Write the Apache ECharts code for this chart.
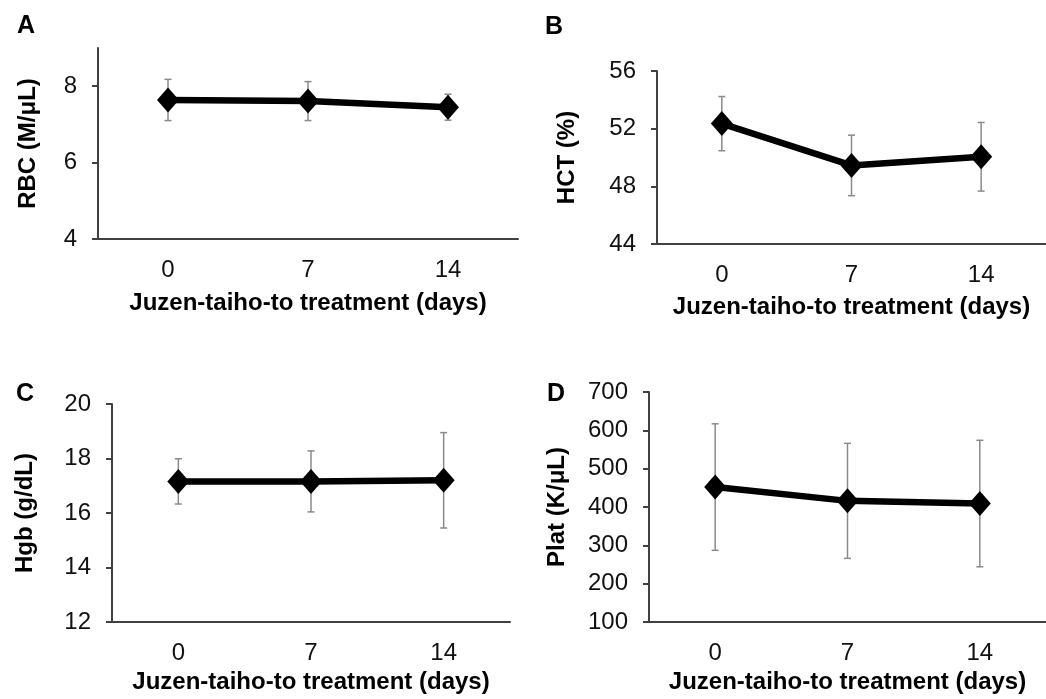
<!DOCTYPE html>
<html>
<head>
<meta charset="utf-8">
<script src="https://cdn.jsdelivr.net/npm/echarts@6/dist/echarts.min.js"></script>
<style>
  html, body { margin: 0; padding: 0; background: #fff; }
  #main { width: 1046px; height: 699px; }
</style>
</head>
<body>
<div id="main"></div>
<script>
var days = ['0', '7', '14'];
var xName = 'Juzen-taiho-to treatment (days)';

var rbcMean = [7.64, 7.61, 7.45];
var rbcErr = [0.54, 0.51, 0.34];
var hctMean = [52.35, 49.45, 50.05];
var hctErr = [1.88, 2.1, 2.38];
var hgbMean = [17.16, 17.16, 17.2];
var hgbErr = [0.83, 1.12, 1.75];
var platMean = [452, 416, 409];
var platErr = [165, 150, 165];

var FONT = "'Liberation Sans', Arial, sans-serif";

var chart = echarts.init(document.getElementById('main'));

// panel layout: grid box, y range, axis names, name gaps
var panels = [
    { letter: 'A', grid: { left: 98, top: 48, width: 420, height: 191 }, min: 4, max: 9, interval: 2,
      yName: 'RBC (M/\u03bcL)', yGap: 58, xGap: 52, mean: rbcMean, err: rbcErr, lx: 12, ly: 9 },
    { letter: 'B', grid: { left: 657, top: 71, width: 395, height: 173 }, min: 44, max: 56, interval: 4,
      yName: 'HCT (%)', yGap: 78, xGap: 51, mean: hctMean, err: hctErr, lx: 540, ly: 10 },
    { letter: 'C', grid: { left: 112, top: 404, width: 398, height: 218 }, min: 12, max: 20, interval: 2,
      yName: 'Hgb (g/dL)', yGap: 75, xGap: 48, mean: hgbMean, err: hgbErr, lx: 11, ly: 377 },
    { letter: 'D', grid: { left: 649, top: 392, width: 400, height: 230 }, min: 100, max: 700, interval: 100,
      yName: 'Plat (K/\u03bcL)', yGap: 80, xGap: 48, mean: platMean, err: platErr, lx: 542, ly: 377 }
];

var grids = [], xAxes = [], yAxes = [], series = [], titles = [];

panels.forEach(function (p, i) {
    grids.push(p.grid);
    titles.push({
        text: p.letter, left: p.lx, top: p.ly,
        textStyle: { fontFamily: FONT, fontSize: 25, fontWeight: 'bold', color: '#000' }
    });
    xAxes.push({
        gridIndex: i,
        type: 'category',
        data: days,
        boundaryGap: true,
        axisLine: { lineStyle: { color: '#404040', width: 2 } },
        axisTick: { show: false },
        axisLabel: { fontFamily: FONT, fontSize: 24, color: '#111', margin: 19 },
        name: xName,
        nameLocation: 'middle',
        nameGap: p.xGap,
        nameTextStyle: { fontFamily: FONT, fontSize: 24, fontWeight: 'bold', color: '#000' }
    });
    yAxes.push({
        gridIndex: i,
        type: 'value',
        min: p.min,
        max: p.max,
        interval: p.interval,
        splitLine: { show: false },
        axisLine: { show: true, lineStyle: { color: '#404040', width: 2 } },
        axisTick: { show: true, length: 6, lineStyle: { color: '#404040', width: 2 } },
        axisLabel: { fontFamily: FONT, fontSize: 24, color: '#111', margin: 21, showMaxLabel: p.max % p.interval === 0 },
        name: p.yName,
        nameLocation: 'middle',
        nameGap: p.yGap,
        nameTextStyle: { fontFamily: FONT, fontSize: 24, fontWeight: 'bold', color: '#000' }
    });

    var errData = p.mean.map(function (m, k) {
        return [k, m - p.err[k], m + p.err[k]];
    });
    series.push({
        type: 'custom',
        xAxisIndex: i,
        yAxisIndex: i,
        z: 1,
        data: errData,
        renderItem: function (params, api) {
            var lo = api.coord([api.value(0), api.value(1)]);
            var hi = api.coord([api.value(0), api.value(2)]);
            var st = { stroke: '#8a8a8a', lineWidth: 1.5 };
            var cap = 3.5;
            return {
                type: 'group',
                children: [
                    { type: 'line', shape: { x1: lo[0], y1: lo[1], x2: hi[0], y2: hi[1] }, style: st },
                    { type: 'line', shape: { x1: lo[0] - cap, y1: lo[1], x2: lo[0] + cap, y2: lo[1] }, style: st },
                    { type: 'line', shape: { x1: hi[0] - cap, y1: hi[1], x2: hi[0] + cap, y2: hi[1] }, style: st }
                ]
            };
        }
    });
    series.push({
        type: 'line',
        xAxisIndex: i,
        yAxisIndex: i,
        z: 3,
        data: p.mean,
        symbol: 'diamond',
        symbolSize: [22, 25],
        lineStyle: { color: '#000', width: 6.5 },
        itemStyle: { color: '#000' },
        animation: false
    });
});

chart.setOption({
    backgroundColor: '#fff',
    animation: false,
    title: titles,
    grid: grids,
    xAxis: xAxes,
    yAxis: yAxes,
    series: series
});
</script>
</body>
</html>
